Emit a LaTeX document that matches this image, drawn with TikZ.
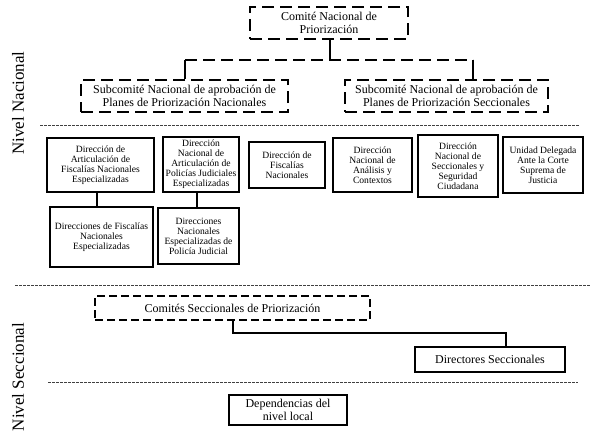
\documentclass[tikz,border=0pt]{standalone}
\usepackage{fontspec}
\setmainfont{Liberation Serif}
\begin{document}
\begin{tikzpicture}[x=1pt,y=-1pt,
  dbox/.style={draw, line width=2.4pt, dash pattern=on 12pt off 6pt, align=center, inner sep=1pt, font=\fontsize{12}{12.5}\selectfont},
  dboxs/.style={draw, line width=2.2pt, dash pattern=on 8pt off 4pt, align=center, inner sep=1pt, font=\fontsize{12}{12.5}\selectfont},
  sbox/.style={draw, line width=2.6pt, align=center, inner sep=1pt, font=\fontsize{9.6}{10}\selectfont},
  lbox/.style={draw, line width=2.6pt, align=center, inner sep=1pt, font=\fontsize{12}{13.5}\selectfont},
  sep/.style={line width=0.8pt, dash pattern=on 2.5pt off 1.5pt, black!75},
  conn/.style={line width=2.4pt},
  thin/.style={line width=1.5pt},
  lvl/.style={rotate=90, font=\fontsize{17}{17}\selectfont}]
\useasboundingbox (0,0) rectangle (591,442);
% national level
\node[dbox, minimum width=158pt, minimum height=32pt] (com) at (329,23) {Comité Nacional de\\Priorización};
\node[dbox, minimum width=207pt, minimum height=32pt] (subN) at (184.5,96) {Subcomité Nacional de aprobación de\\Planes de Priorización Nacionales};
\node[dbox, minimum width=203pt, minimum height=32pt] (subS) at (446.5,96) {Subcomité Nacional de aprobación de\\Planes de Priorización Seccionales};
\coordinate (j0) at (330,60);
\coordinate (jl) at (185,60);
\coordinate (jr) at (473,60);
\draw[conn] (com.south -| j0) -- (j0);
\draw[conn, dash pattern=on 12pt off 6pt] (jl) -- (jr);
\draw[conn] (jl) -- (jl |- subN.north);
\draw[conn] (jr) -- (jr |- subS.north);
\node[lvl] (nn) at (18,103) {Nivel Nacional};
\draw[sep] (40,125) -- (580,125);
% directions
\node[sbox, minimum width=107pt, minimum height=54pt] (b1) at (100.5,165) {Dirección de\\Articulación de\\Fiscalías Nacionales\\Especializadas};
\node[sbox, minimum width=76pt, minimum height=55pt] (b2) at (201,164.5) {Dirección\\Nacional de\\Articulación de\\Policías Judiciales\\Especializadas};
\node[sbox, minimum width=76pt, minimum height=46pt] (b3) at (287,165) {Dirección de\\Fiscalías\\Nacionales};
\node[sbox, minimum width=79pt, minimum height=54pt] (b4) at (372.5,165) {Dirección\\Nacional de\\Análisis y\\Contextos};
\node[sbox, minimum width=80pt, minimum height=62pt] (b5) at (458,166) {Dirección\\Nacional de\\Seccionales y\\Seguridad\\Ciudadana};
\node[sbox, minimum width=80pt, minimum height=56pt] (b6) at (543,165) {Unidad Delegada\\Ante la Corte\\Suprema de\\Justicia};
\node[sbox, minimum width=103pt, minimum height=60pt] (b7) at (101.5,237) {Direcciones de Fiscalías\\Nacionales\\Especializadas};
\node[sbox, minimum width=81pt, minimum height=56pt] (b8) at (198.5,236) {Direcciones\\Nacionales\\Especializadas de\\Policía Judicial};
\coordinate (c1) at (97,200);
\draw[thin] (c1 |- b1.south) -- (c1 |- b7.north);
\coordinate (c2) at (197,200);
\draw[thin] (c2 |- b2.south) -- (c2 |- b8.north);
\draw[sep] (15,285) -- (590,285);
% sectional level
\node[dboxs, minimum width=275pt, minimum height=24pt] (cs) at (232.5,308) {Comités Seccionales de Priorización};
\node[lbox, minimum width=150pt, minimum height=25pt] (ds) at (490,359.5) {Directores Seccionales};
\coordinate (k1) at (233,333);
\coordinate (k2) at (506,333);
\draw[conn] (k1 |- cs.south) -- (k1) -- (k2) -- (k2 |- ds.north);
\draw[sep] (48,382) -- (578,382);
\node[lbox, minimum width=118pt, minimum height=30pt] (dep) at (288,410) {Dependencias del\\nivel local};
\node[lvl] (ns) at (18,377) {Nivel Seccional};
\end{tikzpicture}
\end{document}
